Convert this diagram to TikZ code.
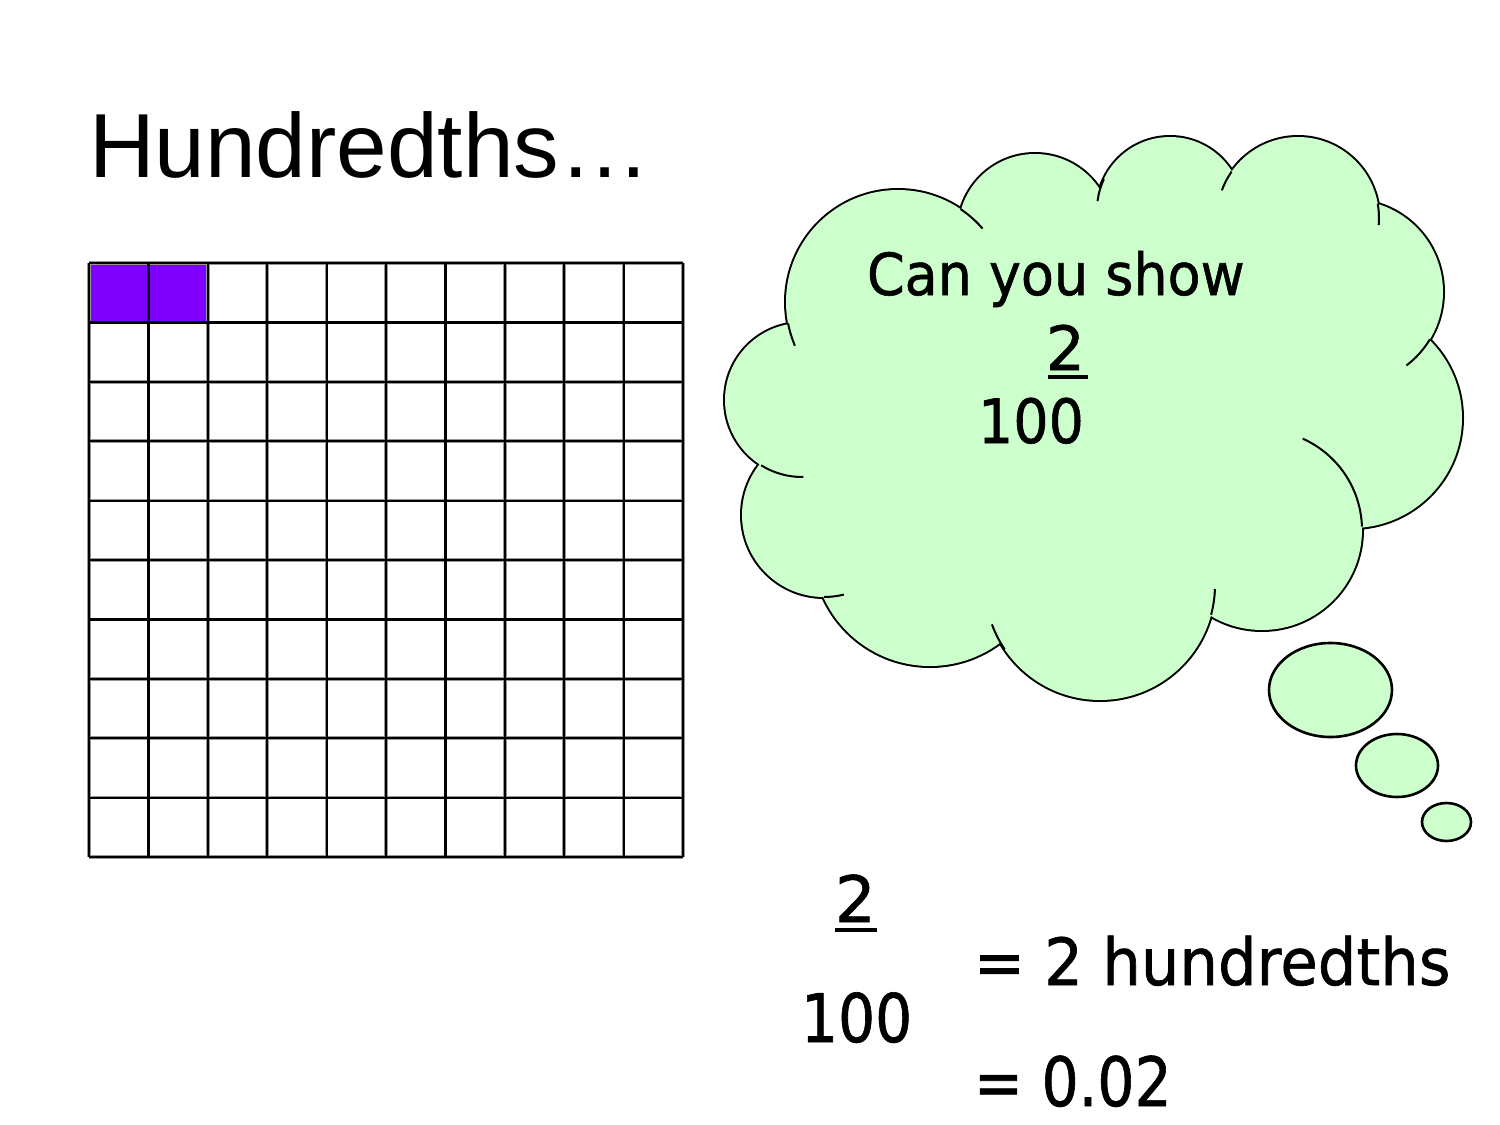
\documentclass[tikz,border=0pt]{standalone}
\usepackage{fontspec}
\setmainfont{Liberation Sans}
\newfontfamily\comicfont[FakeBold=1]{DejaVu Sans}
\definecolor{cloudgreen}{RGB}{204,255,204}
\definecolor{cellpurple}{RGB}{128,0,255}
\definecolor{gridgray}{RGB}{150,150,150}
\tikzset{
  txt/.style={inner sep=0pt, outer sep=0pt, anchor=base west},
  bubble/.style={fill=cloudgreen, draw=black, line width=1.3pt},
  stub/.style={draw=black, line width=1pt},
  uline/.style={draw=black, line width=2pt},
}
\begin{document}
\begin{tikzpicture}[x=0.5pt,y=-0.5pt]
\useasboundingbox (0,0) rectangle (1500,1125);
\fill[white] (0,0) rectangle (1500,1125);

% title
\node[txt] (title) at (89,177) {\fontsize{45.5pt}{50pt}\selectfont Hundredths\ldots};

% grid
\fill[cellpurple] (89,263) rectangle (148.4,322.4);
\fill[cellpurple] (148.4,263) rectangle (207.8,322.4);
\foreach \i in {0,...,10}{
  \draw[gridgray, line width=1.8pt] ({89+59.4*\i},263) -- ({89+59.4*\i},857);
  \draw[gridgray, line width=1.8pt] (89,{263+59.4*\i}) -- (683,{263+59.4*\i});
}
\foreach \i in {0,...,10}{
  \draw[black, line width=1.1pt] ({89+59.4*\i},263) -- ({89+59.4*\i},857);
  \draw[black, line width=1.1pt] (89,{263+59.4*\i}) -- (683,{263+59.4*\i});
}

% cloud outline (outer halves of thick circle strokes)
\foreach \cx/\cy/\r in {898/302/112,1035/231/77,1170/210/73,1298/218/81,1351/292/92,1352/418/110,1262/530/100,1100/585/115,930/549/117,824/515/82,802/400/77}{
  \draw[black, line width=2pt] (\cx,\cy) circle[radius=\r];
}
% cloud fill
\fill[cloudgreen] (898,302) -- (1035,231) -- (1170,210) -- (1298,218) -- (1351,292) -- (1352,418) -- (1262,530) -- (1100,585) -- (930,549) -- (824,515) -- (802,400) -- cycle;
\foreach \cx/\cy/\r in {898/302/112,1035/231/77,1170/210/73,1298/218/81,1351/292/92,1352/418/110,1262/530/100,1100/585/115,930/549/117,824/515/82,802/400/77}{
  \fill[cloudgreen] (\cx,\cy) circle[radius=\r];
}
% inner stubs
\foreach \cx/\cy/\r/\a/\b in {898/302/112/169/157, 898/302/112/-56/-41, 1170/210/73/205/187, 1298/218/81/215/200, 1298/218/81/-10/5, 1351/292/92/31/53, 1262/530/100/-66/-2, 1100/585/115/15/2, 1100/585/115/146/160, 824/515/82/90/76, 802/400/77/122/89}{
  \draw[stub] ([shift={(\a:\r)}]\cx,\cy) arc[start angle=\a, end angle=\b, radius=\r];
}

% thought bubbles
\draw[bubble] (1330.5,690) ellipse[x radius=61.5, y radius=47];
\draw[bubble] (1397,765.5) ellipse[x radius=41, y radius=31.5];
\draw[bubble] (1446.5,822) ellipse[x radius=24.5, y radius=19];

% cloud text
\node[txt] (ask) at (867,295) {\comicfont\fontsize{29pt}{32pt}\selectfont\scalebox{0.93}[1]{Can you show}};
\node[txt] (cnum) at (1046,370) {\comicfont\fontsize{30.5pt}{32pt}\selectfont 2};
\draw[uline] (1048,377) -- (1088,377);
\node[txt] (cden) at (978,443) {\comicfont\fontsize{30.5pt}{32pt}\selectfont\scalebox{0.91}[1]{100}};

% bottom text
\node[txt] (bnum) at (835,922) {\comicfont\fontsize{32pt}{34pt}\selectfont 2};
\draw[uline] (835,930) -- (877,930);
\node[txt] (bden) at (801,1042) {\comicfont\fontsize{33.5pt}{36pt}\selectfont\scalebox{0.87}[1]{100}};
\node[txt] (eq1) at (974,985) {\comicfont\fontsize{32.5pt}{36pt}\selectfont\scalebox{0.936}[1]{= 2 hundredths}};
\node[txt] (eq2) at (974,1106) {\comicfont\fontsize{34pt}{36pt}\selectfont\scalebox{0.86}[1]{= 0.02}};
\end{tikzpicture}
\end{document}
